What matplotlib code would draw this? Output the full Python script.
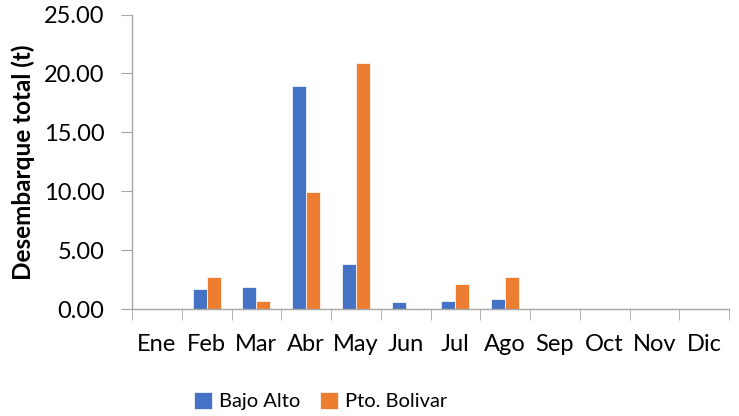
import matplotlib.pyplot as plt
import numpy as np

months = ["Ene", "Feb", "Mar", "Abr", "May", "Jun", "Jul", "Ago", "Sep", "Oct", "Nov", "Dic"]
bajo_alto = [0.0, 1.70, 1.84, 18.93, 3.82, 0.57, 0.70, 0.87, 0.0, 0.0, 0.0, 0.0]
pto_bolivar = [0.0, 2.74, 0.68, 9.90, 20.90, 0.0, 2.12, 2.74, 0.0, 0.0, 0.0, 0.0]

plt.rcParams["font.family"] = ["Lato", "DejaVu Sans"]

W, H = 739, 416
fig = plt.figure(figsize=(W / 100, H / 100), dpi=100)
ax = fig.add_axes([132 / W, 1 - 309 / H, (729 - 132) / W, (309 - 14.5) / H])

x = np.arange(len(months))
bw = 0.28
ax.bar(x - bw / 2, bajo_alto, bw, color="#4472C4", label="Bajo Alto", edgecolor="white", linewidth=0.5)
ax.bar(x + bw / 2, pto_bolivar, bw, color="#ED7D31", label="Pto. Bolivar", edgecolor="white", linewidth=0.5)

ax.set_xlim(-0.5, len(months) - 0.5)
ax.set_ylim(0, 25)
ax.set_yticks(np.arange(0, 25.1, 5))
ax.set_yticklabels([f"{v:.2f}" for v in np.arange(0, 25.1, 5)])
ax.set_xticks(x)
ax.set_xticklabels(months)
ax.set_xticks(np.arange(-0.5, len(months), 1), minor=True)

axis_color = "#a6a6a6"
for side in ("top", "right"):
    ax.spines[side].set_visible(False)
for side in ("left", "bottom"):
    ax.spines[side].set_color(axis_color)
    ax.spines[side].set_linewidth(1.0)

ax.tick_params(axis="y", direction="out", length=8, color=axis_color, labelsize=17, pad=12)
ax.tick_params(axis="x", which="major", length=0, labelsize=17, pad=18)
ax.tick_params(axis="x", which="minor", direction="out", length=8, color=axis_color)

ax.set_ylabel("Desembarque total (t)", fontsize=17.5, fontweight="bold")
ax.yaxis.set_label_coords(-0.163, 0.50)

fig.legend(loc="center", bbox_to_anchor=(0.434, 0.036), ncol=2, frameon=False,
           fontsize=14.5, handlelength=0.9, handleheight=0.9, handletextpad=0.35, columnspacing=1.0)

fig.savefig("out.png", dpi=100)
